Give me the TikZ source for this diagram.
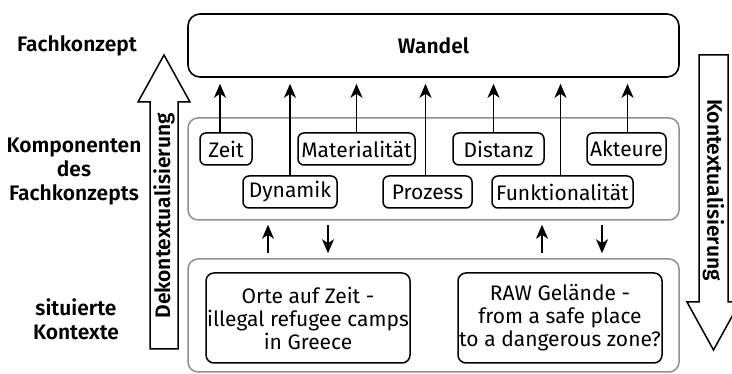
\documentclass[tikz,border=0pt]{standalone}
\usepackage{fontspec}
\setmainfont{Fira Sans}[BoldFont={Fira Sans SemiBold}]
\usetikzlibrary{arrows.meta}
\definecolor{groupgray}{HTML}{909090}
\begin{document}
\begin{tikzpicture}[x=1pt,y=-1pt,
  lbl/.style={font=\fontsize{21}{24}\selectfont\bfseries, align=center},
  bigbox/.style={draw, line width=1.6pt, rounded corners=12pt, inner sep=0pt, font=\fontsize{21}{24}\selectfont\bfseries},
  comp/.style={draw, line width=1.5pt, rounded corners=6pt, inner sep=0pt, minimum height=32pt, font=\fontsize{21}{24}\selectfont},
  ctxbox/.style={draw, line width=1.5pt, rounded corners=8pt, inner sep=0pt, align=center, minimum width=204pt, minimum height=90pt, font=\fontsize{21}{23}\selectfont},
  group/.style={draw=groupgray, line width=1.5pt, rounded corners=10pt, inner sep=0pt},
  arr/.style={-{Stealth[length=14pt,width=12pt,inset=4pt]}, line width=1.4pt},
  bigarrow/.style={draw, line width=1.5pt, fill=white, line join=miter}
]
\useasboundingbox (0,0) rectangle (732,374);

% group backgrounds
\node[group, minimum width=491pt, minimum height=102pt] (comps) at (433.5,169) {};
\node[group, minimum width=491pt, minimum height=113pt] (ctx) at (433.5,315.5) {};

% top concept
\node[bigbox, minimum width=491pt, minimum height=63pt] (wandel) at (433.5,45.5) {Wandel};

% components
\node[comp, minimum width=52pt]  (zeit)  at (226,149)   {Zeit};
\node[comp, minimum width=117pt] (mat)   at (356.5,149) {Materialität};
\node[comp, minimum width=91pt]  (dist)  at (498.5,149) {Distanz};
\node[comp, minimum width=79pt]  (akt)   at (626.5,149) {Akteure};
\node[comp, minimum width=94pt]  (dyn)   at (290,192)   {Dynamik};
\node[comp, minimum width=89pt]  (proz)  at (427.5,192) {Prozess};
\node[comp, minimum width=141pt] (funk)  at (562.5,192) {Funktionalität};

% contexts
\node[ctxbox] (orte) at (308,318) {Orte auf Zeit -\\illegal refugee camps\\in Greece};
\node[ctxbox] (raw)  at (560,318) {RAW Gelände -\\from a safe place\\to a dangerous zone?};

% left labels
\node[lbl] (l1) at (77,46) {Fachkonzept};
\node[lbl] (l2) at (74,172) {Komponenten\\des\\Fachkonzepts};
\node[lbl] (l3) at (76,319) {situierte\\Kontexte};

% arrows to Wandel
\draw[arr, shorten >=6pt] ([xshift=-6pt]zeit.north) -- ([xshift=-6pt]zeit.north |- wandel.south);
\draw[arr, shorten >=6pt] (dyn.north) -- (dyn.north |- wandel.south);
\draw[arr, shorten >=6pt] (mat.north) -- (mat.north |- wandel.south);
\draw[arr, shorten >=6pt] ([xshift=-2pt]proz.north) -- ([xshift=-2pt]proz.north |- wandel.south);
\draw[arr, shorten >=6pt] ([xshift=-5pt]dist.north) -- ([xshift=-5pt]dist.north |- wandel.south);
\draw[arr, shorten >=6pt] ([xshift=-2pt]funk.north) -- ([xshift=-2pt]funk.north |- wandel.south);
\draw[arr, shorten >=6pt] ([xshift=1pt]akt.north) -- ([xshift=1pt]akt.north |- wandel.south);

% arrows between groups
\coordinate (u1) at (268,0);
\coordinate (d1) at (328,0);
\coordinate (u2) at (542,0);
\coordinate (d2) at (602,0);
\draw[arr, shorten <=5pt, shorten >=4pt] (u1 |- ctx.north) -- (u1 |- comps.south);
\draw[arr, shorten <=4pt, shorten >=5pt] (d1 |- comps.south) -- (d1 |- ctx.north);
\draw[arr, shorten <=5pt, shorten >=4pt] (u2 |- ctx.north) -- (u2 |- comps.south);
\draw[arr, shorten <=4pt, shorten >=5pt] (d2 |- comps.south) -- (d2 |- ctx.north);

% big arrows
\path[bigarrow] (150,349) -- (150,102) -- (138,102) -- (164,55) -- (190,102) -- (178,102) -- (178,349) -- cycle;
\node[lbl, rotate=90] (dek) at (164,216) {Dekontextualisierung};
\path[bigarrow] (699,55) -- (699,302) -- (687,302) -- (713.5,350) -- (740,302) -- (728,302) -- (728,55) -- cycle;
\node[lbl, rotate=-90] (kon) at (713.5,190) {Kontextualisierung};
\end{tikzpicture}
\end{document}
